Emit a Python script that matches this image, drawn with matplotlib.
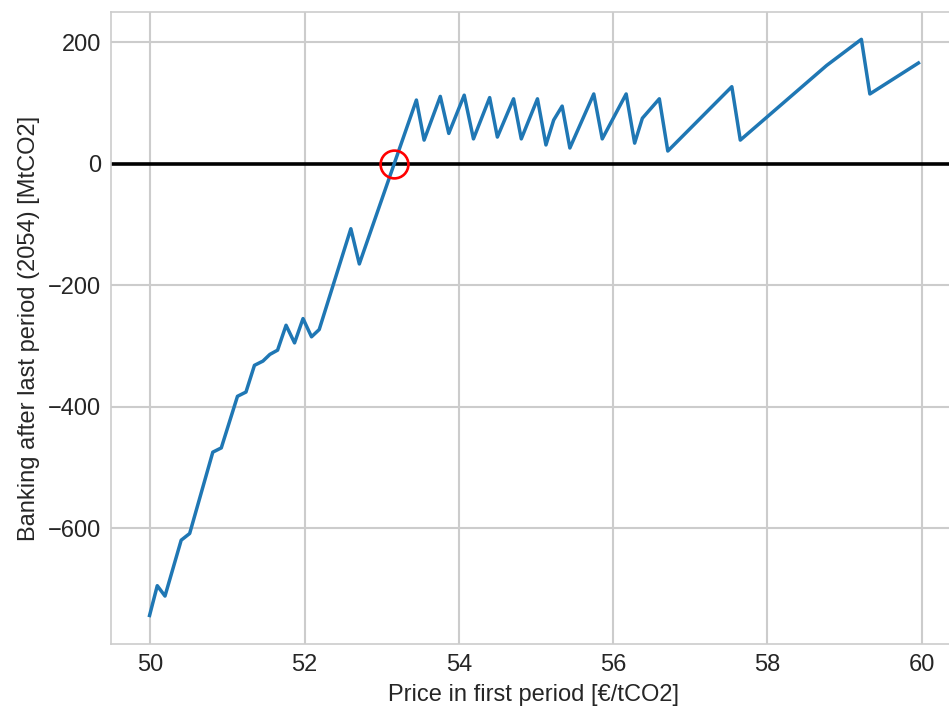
import matplotlib
matplotlib.use("Agg")
import matplotlib.pyplot as plt

# Price in the first period (EUR/tCO2) and resulting banking after the last period (MtCO2)
price = [49.99, 50.09, 50.19, 50.40, 50.51, 50.81, 50.92, 51.13, 51.24, 51.35,
         51.46, 51.55, 51.65, 51.76, 51.87, 51.98, 52.09, 52.19, 52.60, 52.71,
         53.45, 53.55, 53.76, 53.87, 54.07, 54.19, 54.40, 54.50, 54.71, 54.81,
         55.02, 55.13, 55.23, 55.34, 55.44, 55.75, 55.86, 56.17, 56.28, 56.38,
         56.60, 56.71, 57.54, 57.65, 58.77, 59.22, 59.33, 59.96]
banking = [-744, -695, -712, -620, -609, -475, -468, -383, -376, -332,
           -325, -314, -307, -266, -295, -255, -285, -273, -107, -165,
           105, 39, 111, 50, 113, 41, 109, 44, 107, 41,
           107, 31, 72, 95, 26, 115, 41, 115, 34, 75,
           107, 21, 127, 39, 162, 205, 115, 166]

# Price at which banking crosses zero
equilibrium_price = 53.16
equilibrium_banking = 0

x_ticks = [50, 52, 54, 56, 58, 60]
y_ticks = [-600, -400, -200, 0, 200]

plt.rcParams['font.family'] = ['Liberation Sans', 'DejaVu Sans']

fig = plt.figure(figsize=(9.49, 7.09), dpi=100)
W, H = 949, 709
ax = fig.add_axes([111 / W, (H - 644) / H, (957 - 111) / W, (644 - 12) / H])

ax.set_facecolor('white')
for s in ax.spines.values():
    s.set_color('#cccccc')
    s.set_linewidth(1.2)
ax.grid(True, color='#cccccc', linewidth=1.5)
ax.set_axisbelow(True)

ax.plot(price, banking, color='#1f77b4', linewidth=2.5, zorder=3)
ax.axhline(0, color='black', linewidth=2.6, zorder=2)
ax.plot([equilibrium_price], [equilibrium_banking], marker='o', markersize=20,
        markerfacecolor='none', markeredgecolor='red', markeredgewidth=1.9,
        linestyle='none', zorder=4)

ax.set_xlim(49.49, 60.46)
ax.set_ylim(-791, 250)
ax.set_xticks(x_ticks)
ax.set_yticks(y_ticks)
ax.tick_params(axis='both', length=0, labelsize=17, colors='#262626', pad=7)

ax.set_xlabel('Price in first period [€/tCO2]', fontsize=17, color='#262626', labelpad=6)
ax.set_ylabel('Banking after last period (2054) [MtCO2]', fontsize=17, color='#262626', labelpad=6)

fig.savefig('out.png', dpi=100)
